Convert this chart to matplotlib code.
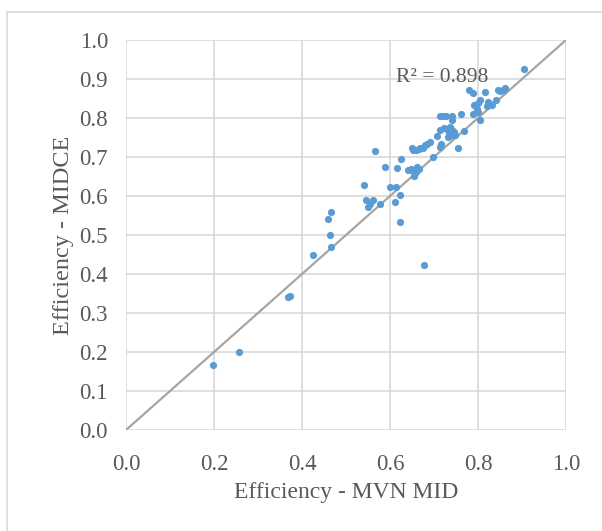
import matplotlib.pyplot as plt
from matplotlib.patches import Rectangle

# efficiency scores
mvn_mid = [0.905, 0.862, 0.857, 0.849, 0.845, 0.815, 0.780, 0.789, 0.842, 0.804,
           0.800, 0.792, 0.823, 0.828, 0.832, 0.821, 0.798, 0.789, 0.800, 0.805,
           0.762, 0.713, 0.721, 0.727, 0.740, 0.740, 0.768, 0.713, 0.722, 0.730,
           0.737, 0.742, 0.706, 0.732, 0.740, 0.748, 0.735, 0.745, 0.717, 0.713,
           0.692, 0.683, 0.679, 0.675, 0.668, 0.649, 0.653, 0.660, 0.666, 0.755,
           0.698, 0.626, 0.566, 0.589, 0.615, 0.641, 0.647, 0.653, 0.662, 0.666,
           0.654, 0.659, 0.541, 0.600, 0.613, 0.623, 0.546, 0.562, 0.555, 0.551,
           0.577, 0.611, 0.623, 0.467, 0.460, 0.463, 0.467, 0.424, 0.368, 0.373,
           0.197, 0.256, 0.677]
midce = [0.925, 0.878, 0.871, 0.870, 0.872, 0.866, 0.873, 0.863, 0.847, 0.847,
         0.839, 0.833, 0.841, 0.837, 0.833, 0.830, 0.824, 0.811, 0.816, 0.796,
         0.810, 0.805, 0.805, 0.805, 0.805, 0.796, 0.767, 0.769, 0.774, 0.771,
         0.778, 0.769, 0.753, 0.752, 0.756, 0.757, 0.762, 0.764, 0.734, 0.726,
         0.739, 0.734, 0.730, 0.724, 0.724, 0.724, 0.717, 0.717, 0.721, 0.724,
         0.700, 0.696, 0.716, 0.674, 0.672, 0.666, 0.668, 0.663, 0.674, 0.668,
         0.651, 0.661, 0.629, 0.623, 0.623, 0.602, 0.590, 0.589, 0.580, 0.572,
         0.580, 0.584, 0.533, 0.559, 0.542, 0.499, 0.468, 0.448, 0.342, 0.344,
         0.166, 0.201, 0.423]
ticks = [0.0, 0.2, 0.4, 0.6, 0.8, 1.0]
yticks = [0.0, 0.1, 0.2, 0.3, 0.4, 0.5, 0.6, 0.7, 0.8, 0.9, 1.0]

plt.rcParams['font.family'] = ['Liberation Serif', 'DejaVu Serif']
txt = '#595959'

fig = plt.figure(figsize=(6.02, 5.31), dpi=100)
fig.patches.append(Rectangle((7 / 602, -0.1), 1.2, (531 - 12) / 531 + 0.1,
                             transform=fig.transFigure, fill=False,
                             edgecolor='#D9D9D9', linewidth=1.2))
ax = fig.add_axes([126 / 602, 101 / 531, 440 / 602, 390 / 531])

ax.plot([0, 1], [0, 1], color='#A5A5A5', linewidth=1.6, zorder=2)
ax.scatter(mvn_mid, midce, s=27, color='#5B9BD5', zorder=3, linewidths=0)

ax.set_xlim(0, 1)
ax.set_ylim(0, 1)
ax.set_xticks(ticks)
ax.set_yticks(yticks)
ax.set_xticklabels(['%.1f' % t for t in ticks])
ax.set_yticklabels(['%.1f' % t for t in yticks])
ax.tick_params(length=0, labelsize=16.5, colors=txt)
ax.tick_params(axis='x', pad=17)
ax.tick_params(axis='y', pad=13)
ax.grid(True, color='#D9D9D9', linewidth=1.2)
ax.set_axisbelow(True)
for s in ax.spines.values():
    s.set_visible(False)

ax.text(0.614, 0.903, 'R² = 0.898', fontsize=15.5, color=txt, va='center')
ax.set_xlabel('Efficiency - MVN MID', fontsize=17, color=txt, labelpad=5)
ax.set_ylabel('Efficiency - MIDCE', fontsize=17.5, color=txt, labelpad=4)

fig.savefig('out.png', dpi=100)
